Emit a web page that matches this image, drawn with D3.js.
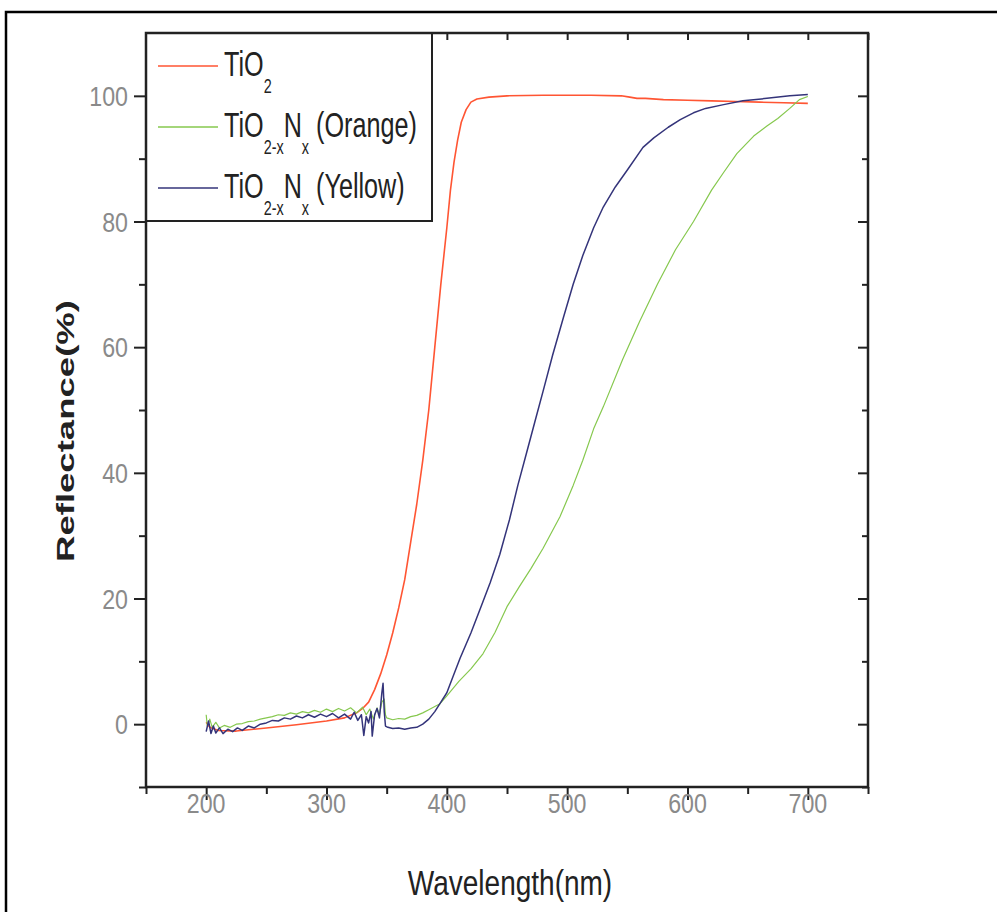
<!DOCTYPE html>
<html lang="en">
<head>
    <meta charset="UTF-8">
    <title>Reflectance</title>
    <script src="https://cdnjs.cloudflare.com/ajax/libs/d3/7.8.5/d3.min.js"></script>
    <style>
        body { margin: 0; background: #fff; }
        text { font-family: "Liberation Sans", Arial, sans-serif; }
    </style>
</head>
<body>
<script>
    // [wavelength nm, reflectance %]
    var tio2 = [
        [200, 0.3], [203, -0.5], [210, -1], [225, -1.1], [250, -0.6], [275, -0.1], [300, 0.5], [315, 1],
        [325, 1.8], [330, 2.5], [335, 3.5], [340, 5.5], [345, 8], [350, 11], [355, 14.5], [360, 18.5],
        [365, 23], [370, 29], [375, 35], [380, 42], [385, 50], [390, 60], [395, 70], [400, 79],
        [403, 85], [406, 89.5], [409, 93], [412, 95.8], [416, 97.8], [420, 99], [425, 99.5], [435, 99.8],
        [450, 100], [480, 100.1], [520, 100.1], [545, 100], [552, 99.8], [558, 99.6], [565, 99.6], [580, 99.4],
        [600, 99.3], [620, 99.2], [640, 99.1], [660, 99], [680, 98.9], [700, 98.8]
    ];
    var orange = [
        [200, 1.5], [201, -0.3], [203, 0.8], [205, -0.5], [208, 0.3], [211, -0.6], [215, -0.2], [220, -0.5],
        [225, 0], [230, 0.1], [235, 0.4], [240, 0.5], [245, 0.8], [250, 1], [255, 1.2], [260, 1.5],
        [265, 1.4], [270, 1.8], [275, 1.6], [280, 2], [285, 1.8], [290, 2.2], [295, 1.9], [300, 2.4],
        [305, 2], [310, 2.5], [315, 2.1], [320, 2.6], [325, 1.8], [330, 2.7], [333, 1.5], [336, 2.4],
        [339, 0.8], [342, 2.6], [344, 1.5], [346, 3.5], [348, 4], [349, 1.5], [350, 1], [355, 0.7],
        [360, 0.9], [365, 0.8], [370, 1.2], [375, 1.4], [380, 1.8], [385, 2.3], [390, 2.8], [394, 3.2],
        [400, 4.5], [410, 6.8], [420, 8.8], [430, 11.2], [440, 14.6], [450, 18.7], [460, 21.8],
        [470, 24.8], [480, 28], [494, 33], [505, 38], [513, 42], [522, 47], [530, 50.5], [546, 58],
        [560, 64], [575, 70], [590, 75.5], [605, 80], [620, 85], [630, 87.8], [641, 90.8], [655, 93.6],
        [666, 95.2], [675, 96.4], [685, 98], [693, 99.4], [700, 99.9]
    ];
    var yellow = [
        [200, -1.2], [202, 0.5], [204, -1.5], [206, -0.3], [208, -1.4], [211, -0.6], [214, -1.5], [218, -0.8],
        [222, -1.2], [226, -0.6], [230, -1], [235, -0.3], [240, -0.6], [245, 0], [250, 0.2], [255, 0.6],
        [260, 0.5], [265, 1], [270, 0.8], [275, 1.3], [280, 1], [285, 1.5], [290, 1.1], [295, 1.6],
        [300, 1.2], [305, 1.7], [310, 1], [315, 1.6], [320, 0.8], [323, 1.9], [326, 0.6], [329, 1.5],
        [331, -1.8], [333, 1.2], [335, 0.2], [337, 2], [338, -1.9], [340, 1.5], [342, 2.5], [344, 1],
        [345, 3], [346, 5], [347, 6.5], [348, 2], [349, -0.3], [351, -0.5], [355, -0.7], [360, -0.6],
        [365, -0.8], [370, -0.6], [375, -0.5], [380, 0], [385, 0.8], [390, 2], [394, 3.2], [400, 5],
        [405, 7.5], [411, 10.5], [420, 14.5], [428, 18.5], [436, 22.5], [444, 27], [452, 32.5], [459, 38],
        [466, 43], [473, 48], [480, 53], [488, 58.8], [497, 64.8], [505, 70], [513, 74.6], [522, 79], [530, 82.3],
        [540, 85.5], [550, 88.2], [563, 91.8], [572, 93.3], [584, 95], [594, 96.2], [605, 97.3],
        [615, 98], [630, 98.6], [646, 99.2], [666, 99.6], [685, 100], [700, 100.2]
    ];

    var xMajor = [200, 300, 400, 500, 600, 700];
    var xMinor = [150, 250, 350, 450, 550, 650, 750];
    var yMajor = [0, 20, 40, 60, 80, 100];
    var yMinor = [-10, 10, 30, 50, 70, 90];

    var series = [
        {name: "tio2", data: tio2, color: "#ff5533", width: 1.6},
        {name: "orange", data: orange, color: "#86c84e", width: 1.2},
        {name: "yellow", data: yellow, color: "#34347a", width: 1.5}
    ];

    var svg = d3.select("body").append("svg")
        .attr("width", 997).attr("height", 912);

    // outer frame of the scanned figure
    svg.append("rect")
        .attr("x", 6).attr("y", 12).attr("width", 1100).attr("height", 1000)
        .attr("fill", "none").attr("stroke", "#000").attr("stroke-width", 2.5);

    var pL = 146, pR = 868, pT = 33, pB = 787;
    var x = d3.scaleLinear().domain([150, 750]).range([pL, pR]);
    var y = d3.scaleLinear().domain([-10, 110]).range([pB, pT]);

    var line = d3.line()
        .x(function (d) { return x(d[0]); })
        .y(function (d) { return y(d[1]); });

    svg.append("g").selectAll("path")
        .data(series)
        .enter().append("path")
        .attr("d", function (d) { return line(d.data); })
        .attr("fill", "none")
        .attr("stroke", function (d) { return d.color; })
        .attr("stroke-width", function (d) { return d.width; })
        .attr("stroke-linejoin", "round");

    // ticks
    function ticks(g) {
        g.select(".domain").remove();
        g.selectAll("line").attr("stroke", "#222").attr("stroke-width", 2);
    }
    svg.append("g").attr("transform", "translate(0," + pB + ")")
        .call(d3.axisBottom(x).tickValues(xMajor).tickSize(13).tickFormat("")).call(ticks);
    svg.append("g").attr("transform", "translate(0," + pB + ")")
        .call(d3.axisBottom(x).tickValues(xMinor).tickSize(7).tickFormat("")).call(ticks);
    svg.append("g").attr("transform", "translate(0," + pT + ")")
        .call(d3.axisBottom(x).tickValues(xMajor.concat(xMinor)).tickSize(7).tickFormat("")).call(ticks);
    svg.append("g").attr("transform", "translate(" + pL + ",0)")
        .call(d3.axisLeft(y).tickValues(yMajor).tickSize(12).tickFormat("")).call(ticks);
    svg.append("g").attr("transform", "translate(" + pL + ",0)")
        .call(d3.axisLeft(y).tickValues(yMinor).tickSize(7).tickFormat("")).call(ticks);
    svg.append("g").attr("transform", "translate(" + pR + ",0)")
        .call(d3.axisLeft(y).tickValues(yMajor).tickSize(10).tickFormat("")).call(ticks);
    svg.append("g").attr("transform", "translate(" + pR + ",0)")
        .call(d3.axisLeft(y).tickValues(yMinor).tickSize(6).tickFormat("")).call(ticks);

    // tick labels (narrow face)
    var sx = 0.72, lx = 0.86;
    xMajor.forEach(function (v) {
        svg.append("text")
            .attr("transform", "translate(" + x(v) + ",813) scale(" + lx + ",1)")
            .attr("text-anchor", "middle").attr("font-size", 27).attr("fill", "#8a8a8a")
            .text(v);
    });
    yMajor.forEach(function (v) {
        svg.append("text")
            .attr("transform", "translate(128," + (y(v) + 10) + ") scale(" + lx + ",1)")
            .attr("text-anchor", "end").attr("font-size", 27).attr("fill", "#8a8a8a")
            .text(v);
    });

    // legend
    var lg = svg.append("g");
    lg.append("rect").attr("x", pL).attr("y", pT).attr("width", 286).attr("height", 188)
        .attr("fill", "#fff").attr("stroke", "#222").attr("stroke-width", 2);
    var rows = [
        {base: 76, parts: [["TiO", 0], ["2", 1]]},
        {base: 137, parts: [["TiO", 0], ["2-x", 1], ["N", 0], ["x", 1], [" (Orange)", 0]]},
        {base: 198, parts: [["TiO", 0], ["2-x", 1], ["N", 0], ["x", 1], [" (Yellow)", 0]]}
    ];
    rows.forEach(function (r, i) {
        lg.append("line")
            .attr("x1", 158).attr("x2", 218)
            .attr("y1", r.base - 10).attr("y2", r.base - 10)
            .attr("stroke", series[i].color).attr("stroke-width", 1.5);
        var t = lg.append("text")
            .attr("transform", "translate(224," + r.base + ") scale(" + sx + ",1)")
            .attr("font-size", 35).attr("fill", "#222")
            .attr("xml:space", "preserve");
        var shift = 0;
        r.parts.forEach(function (p) {
            var dy = p[1] ? 17 - shift : -shift;
            shift = p[1] ? 17 : 0;
            t.append("tspan").attr("dy", dy)
                .attr("font-size", p[1] ? 20 : 35)
                .text(p[0]);
        });
    });

    // plot frame
    svg.append("rect")
        .attr("x", pL).attr("y", pT).attr("width", pR - pL).attr("height", pB - pT)
        .attr("fill", "none").attr("stroke", "#222").attr("stroke-width", 2.5);

    // axis titles
    svg.append("text")
        .attr("transform", "translate(510,895) scale(0.8,1)")
        .attr("text-anchor", "middle").attr("font-size", 35).attr("fill", "#222")
        .text("Wavelength(nm)");
    svg.append("text")
        .attr("transform", "translate(74,431) rotate(-90)")
        .attr("text-anchor", "middle").attr("font-size", 24).attr("font-weight", "bold")
        .attr("fill", "#222")
        .attr("textLength", 262).attr("lengthAdjust", "spacingAndGlyphs")
        .text("Reflectance(%)");
</script>
</body>
</html>
